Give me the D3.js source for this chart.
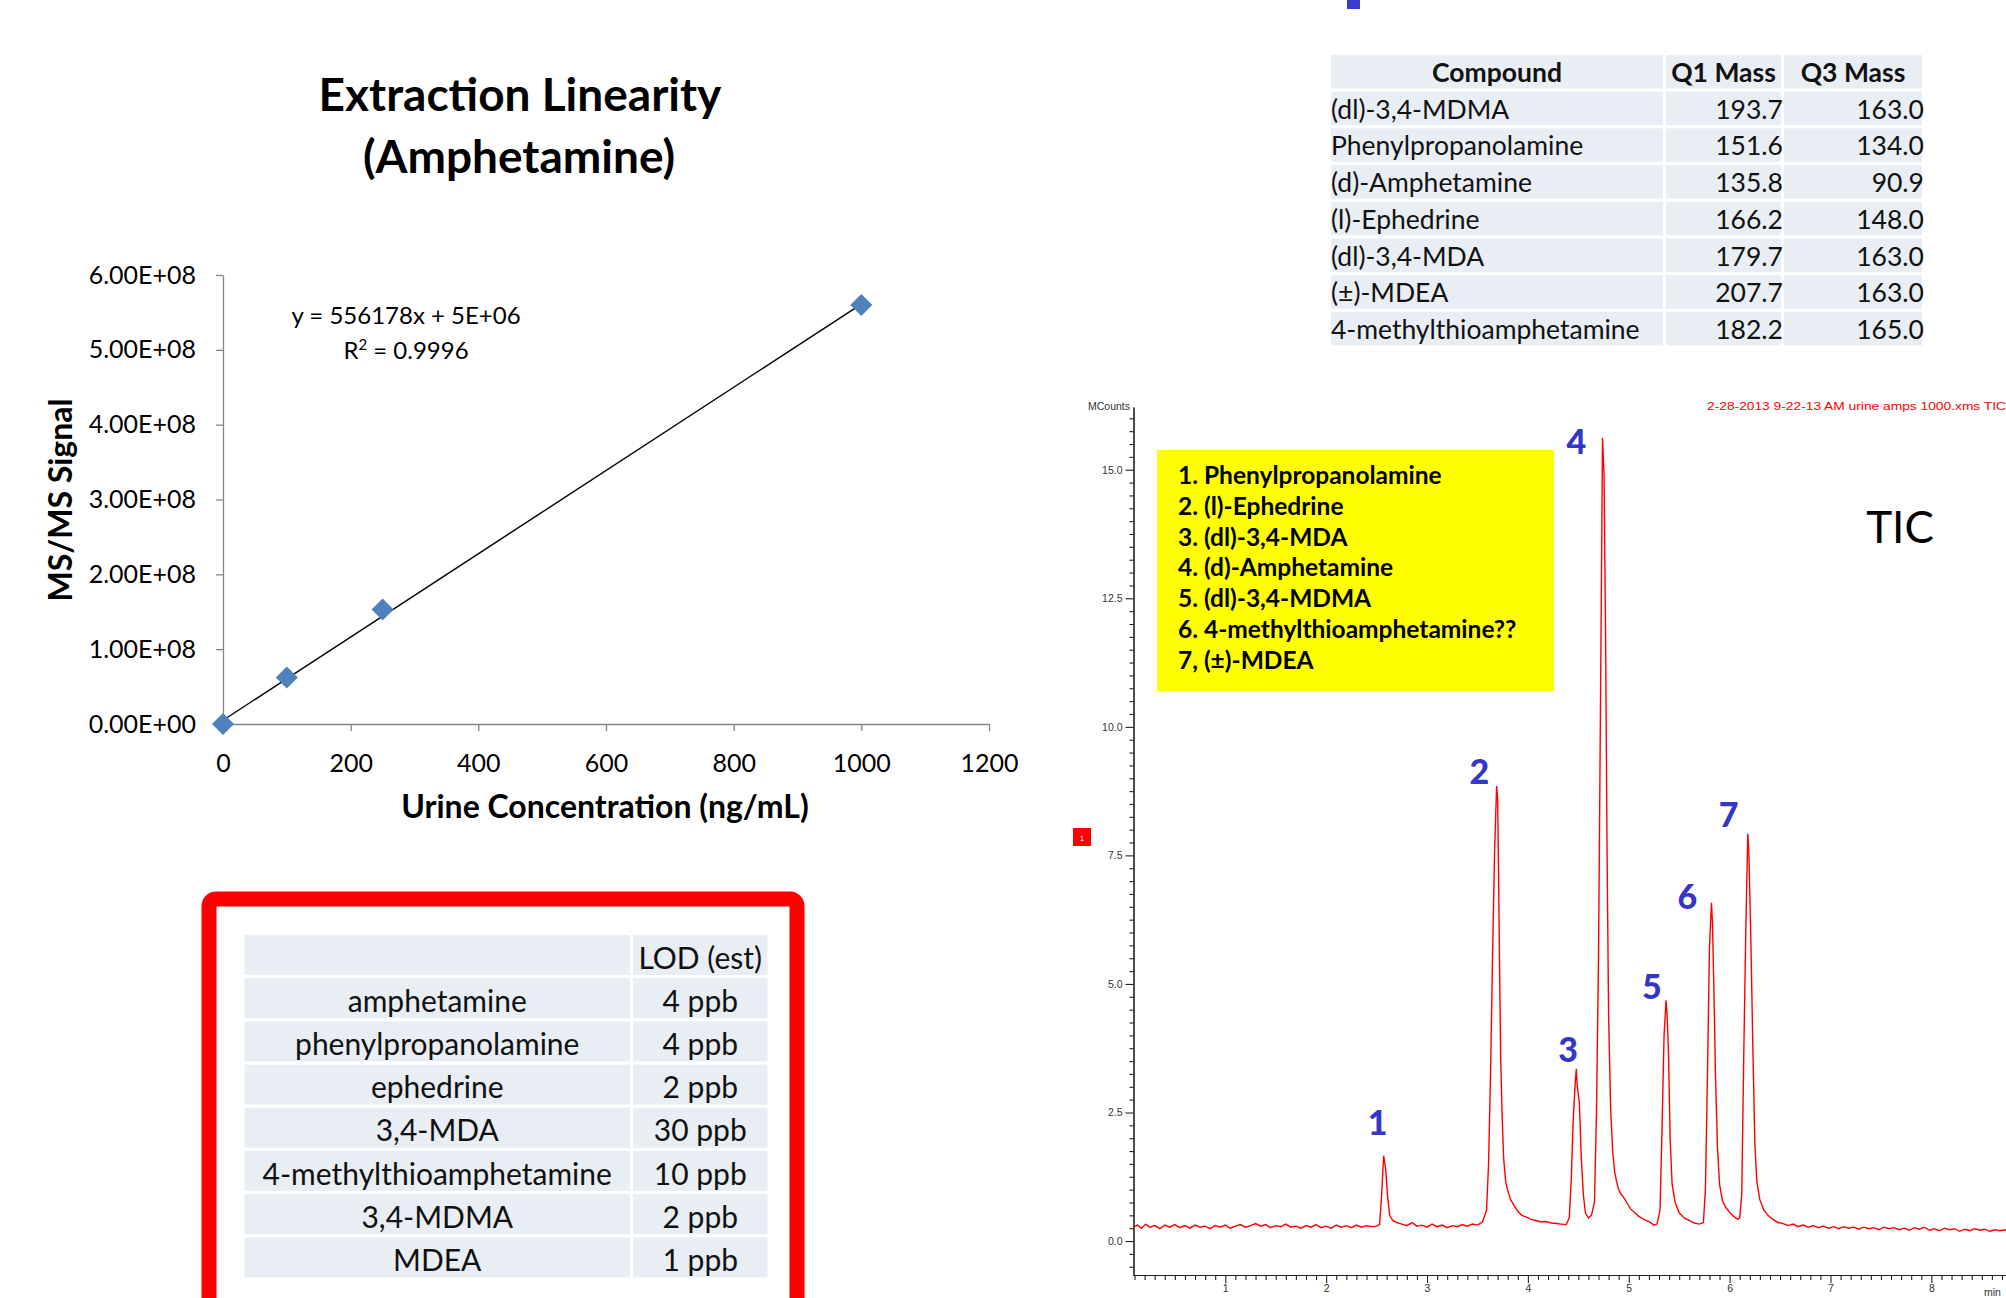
<!DOCTYPE html>
<html>
<head>
<meta charset="utf-8">
<script src="https://cdn.jsdelivr.net/npm/d3@7"></script>
<style>
  body { margin: 0; background: #fff; }
  svg { display: block; }
</style>
</head>
<body>
<svg width="2006" height="1298"></svg>
<script>
// linearity chart
const concentration = [0, 100, 250, 1000];
const msSignal = [0, 6.2e7, 1.53e8, 5.6e8];
const fitSlope = 556178;
const fitIntercept = 5e6;
const linXTicks = [0, 200, 400, 600, 800, 1000, 1200];
const linYTicks = [0, 1e8, 2e8, 3e8, 4e8, 5e8, 6e8];

// LOD table
const lodAnalyte = ["amphetamine", "phenylpropanolamine", "ephedrine", "3,4-MDA",
  "4-methylthioamphetamine", "3,4-MDMA", "MDEA"];
const lodValue = ["4 ppb", "4 ppb", "2 ppb", "30 ppb", "10 ppb", "2 ppb", "1 ppb"];

// MRM table
const compound = ["(dl)-3,4-MDMA", "Phenylpropanolamine", "(d)-Amphetamine", "(l)-Ephedrine",
  "(dl)-3,4-MDA", "(\u00b1)-MDEA", "4-methylthioamphetamine"];
const q1Mass = [193.7, 151.6, 135.8, 166.2, 179.7, 207.7, 182.2];
const q3Mass = [163.0, 134.0, 90.9, 148.0, 163.0, 163.0, 165.0];

// chromatogram
const peakNames = ["1. Phenylpropanolamine", "2. (l)-Ephedrine", "3. (dl)-3,4-MDA",
  "4. (d)-Amphetamine", "5. (dl)-3,4-MDMA", "6. 4-methylthioamphetamine??", "7, (\u00b1)-MDEA"];
const peakIds = ["1", "2", "3", "4", "5", "6", "7"];
const peakLabelTime = [2.51, 3.52, 4.40, 4.48, 5.23, 5.58, 5.99];
const peakLabelLevel = [2.06, 8.89, 3.48, 15.30, 4.71, 6.46, 8.05];
const ticYTicks = [0, 2.5, 5, 7.5, 10, 12.5, 15];
const ticXTicks = [1, 2, 3, 4, 5, 6, 7, 8];
// [min, MCounts]
const ticTrace = [
  [0.09,0.27],[0.13,0.31],[0.17,0.25],[0.21,0.33],[0.25,0.27],[0.30,0.30],[0.35,0.24],[0.40,0.31],
  [0.45,0.27],[0.50,0.32],[0.55,0.26],[0.60,0.30],[0.65,0.25],[0.70,0.31],[0.75,0.27],[0.80,0.29],
  [0.85,0.24],[0.90,0.30],[0.95,0.27],[1.00,0.31],[1.05,0.25],[1.10,0.29],[1.15,0.32],[1.20,0.27],
  [1.25,0.30],[1.30,0.34],[1.35,0.29],[1.40,0.32],[1.45,0.26],[1.50,0.30],[1.55,0.28],[1.60,0.33],
  [1.65,0.27],[1.70,0.29],[1.75,0.25],[1.80,0.30],[1.85,0.27],[1.90,0.32],[1.95,0.26],[2.00,0.29],
  [2.05,0.25],[2.10,0.31],[2.15,0.27],[2.20,0.30],[2.25,0.26],[2.30,0.31],[2.35,0.27],[2.40,0.30],
  [2.45,0.28],[2.50,0.29],
  [2.53,0.32],[2.55,0.90],[2.57,1.66],[2.59,1.40],[2.61,0.85],[2.63,0.50],[2.66,0.40],[2.70,0.36],
  [2.75,0.33],[2.80,0.30],[2.85,0.36],[2.90,0.29],[2.95,0.31],[3.00,0.27],[3.05,0.33],[3.10,0.28],
  [3.15,0.31],[3.20,0.26],[3.25,0.30],[3.30,0.28],[3.35,0.32],[3.40,0.29],[3.45,0.33],[3.50,0.31],
  [3.55,0.37],
  [3.59,0.60],[3.61,1.50],[3.63,3.30],[3.65,5.60],[3.67,7.60],[3.69,8.85],[3.70,8.60],[3.71,7.00],
  [3.72,5.20],[3.73,3.60],[3.745,2.40],[3.76,1.60],[3.78,1.15],[3.80,0.98],[3.83,0.80],[3.86,0.70],
  [3.90,0.58],[3.94,0.50],[3.98,0.47],[4.03,0.42],[4.08,0.40],[4.13,0.37],[4.18,0.38],[4.23,0.35],
  [4.28,0.34],[4.33,0.33],[4.38,0.32],
  [4.41,0.45],[4.43,1.20],[4.45,2.40],[4.47,3.10],[4.48,3.35],[4.49,3.00],[4.51,2.70],[4.53,1.60],
  [4.55,0.90],[4.57,0.55],[4.60,0.45],[4.63,0.50],[4.66,0.75],
  [4.68,2.50],[4.70,5.50],[4.72,10.5],[4.74,15.62],[4.755,14.9],[4.77,11.8],[4.785,7.60],[4.80,4.40],
  [4.82,2.60],[4.84,1.75],[4.86,1.35],[4.88,1.15],[4.90,1.00],[4.92,0.92],[4.95,0.85],[4.98,0.75],
  [5.02,0.62],[5.06,0.55],[5.10,0.48],[5.15,0.42],[5.20,0.38],[5.25,0.31],[5.28,0.33],
  [5.31,0.60],[5.33,2.20],[5.35,4.00],[5.37,4.68],[5.38,4.40],[5.395,3.60],[5.41,2.00],[5.43,1.10],
  [5.46,0.75],[5.50,0.55],[5.55,0.45],[5.60,0.40],[5.65,0.35],[5.70,0.33],[5.74,0.36],
  [5.76,1.00],[5.78,3.20],[5.80,5.70],[5.82,6.58],[5.83,6.20],[5.845,4.80],[5.86,3.20],[5.88,1.80],
  [5.90,1.10],[5.93,0.78],[5.96,0.66],[6.00,0.56],[6.04,0.48],[6.08,0.42],[6.10,0.45],
  [6.12,0.90],[6.14,3.60],[6.16,6.00],[6.18,7.92],[6.19,7.60],[6.21,5.90],[6.23,3.80],[6.25,1.90],
  [6.27,1.15],[6.30,0.80],[6.34,0.60],[6.38,0.50],[6.43,0.42],[6.48,0.36],[6.53,0.34],[6.58,0.30],
  [6.63,0.33],[6.68,0.28],[6.73,0.31],[6.78,0.27],[6.83,0.30],[6.88,0.26],[6.93,0.29],[6.98,0.25],
  [7.03,0.28],[7.08,0.24],[7.13,0.28],[7.18,0.25],[7.23,0.27],[7.28,0.23],[7.33,0.27],[7.38,0.24],
  [7.43,0.26],[7.48,0.22],[7.53,0.27],[7.58,0.24],[7.63,0.26],[7.68,0.22],[7.73,0.25],[7.78,0.21],
  [7.83,0.26],[7.88,0.23],[7.93,0.27],[7.98,0.21],[8.03,0.24],[8.08,0.20],[8.13,0.25],[8.18,0.22],
  [8.23,0.24],[8.28,0.19],[8.33,0.23],[8.38,0.20],[8.43,0.24],[8.48,0.21],[8.53,0.23],[8.58,0.19],
  [8.63,0.22],[8.68,0.20],[8.74,0.22]
];

const svg = d3.select("svg");
const calibri = "Lato, 'Open Sans', sans-serif";
const arial = "'Liberation Sans', Arial, sans-serif";

function fmtE(v) {
  // excel style 6.00E+08
  let s = v.toExponential(2).toUpperCase();
  return s.replace(/E([+-])(\d)$/, "E$10$2");
}

// ---------------- linearity scatter ----------------
function drawLinearity() {
  const x = d3.scaleLinear().domain([0, 1200]).range([223, 989]);
  const y = d3.scaleLinear().domain([0, 6e8]).range([724, 275]);
  const g = svg.append("g");

  g.append("text").attr("x", 520).attr("y", 111).attr("text-anchor", "middle")
    .style("font", "bold 46px " + calibri).text("Extraction Linearity");
  g.append("text").attr("x", 519).attr("y", 173).attr("text-anchor", "middle")
    .style("font", "bold 46px " + calibri).text("(Amphetamine)");

  const ya = g.append("g").attr("transform", "translate(223,0)")
    .call(d3.axisLeft(y).tickValues(linYTicks).tickSize(7).tickSizeOuter(0).tickPadding(20).tickFormat(fmtE));
  const xa = g.append("g").attr("transform", "translate(0,724)")
    .call(d3.axisBottom(x).tickValues(linXTicks).tickSize(7).tickSizeOuter(0).tickPadding(23)
      .tickFormat(d3.format("d")));
  [ya, xa].forEach(a => {
    a.selectAll("path, line").attr("stroke", "#868686").attr("stroke-width", 1.3);
    a.selectAll("text").style("font", "25px " + calibri).attr("fill", "#000");
  });

  g.append("text").attr("transform", "translate(72,500) rotate(-90)").attr("text-anchor", "middle")
    .style("font", "bold 32px " + calibri).text("MS/MS Signal");
  g.append("text").attr("x", 605).attr("y", 818).attr("text-anchor", "middle")
    .style("font", "bold 32px " + calibri).text("Urine Concentration (ng/mL)");

  // trend line
  g.append("line")
    .attr("x1", x(0)).attr("y1", y(fitIntercept))
    .attr("x2", x(1000)).attr("y2", y(fitSlope * 1000 + fitIntercept))
    .attr("stroke", "#000").attr("stroke-width", 1.4);

  g.selectAll("path.pt").data(concentration).enter().append("path")
    .attr("class", "pt")
    .attr("transform", (d, i) => `translate(${x(d)},${y(msSignal[i])})`)
    .attr("d", "M0,-11L11,0L0,11L-11,0Z")
    .attr("fill", "#4F81BD");

  g.append("text").attr("x", 406).attr("y", 324).attr("text-anchor", "middle")
    .style("font", "24px " + calibri).text("y = " + fitSlope + "x + " + fmtE(fitIntercept).replace(".00", ""));
  const r2 = g.append("text").attr("x", 406).attr("y", 359).attr("text-anchor", "middle")
    .style("font", "24px " + calibri);
  r2.append("tspan").text("R");
  r2.append("tspan").attr("dy", -9).style("font-size", "15px").text("2");
  r2.append("tspan").attr("dy", 9).text(" = 0.9996");
}

// ---------------- LOD table in red frame ----------------
function drawLod() {
  const g = svg.append("g");
  g.append("rect").attr("x", 209).attr("y", 899).attr("width", 588).attr("height", 520)
    .attr("rx", 7).attr("fill", "none").attr("stroke", "#FF0000").attr("stroke-width", 15);

  const cols = [[244.5, 630], [633, 767.5]];
  const rowY = d3.scaleLinear().domain([0, 1]).range([935, 978.2]);
  const rows = [["", "LOD (est)"]].concat(lodAnalyte.map((a, i) => [a, lodValue[i]]));

  rows.forEach((r, i) => {
    cols.forEach((c, j) => {
      g.append("rect").attr("x", c[0]).attr("y", rowY(i)).attr("width", c[1] - c[0])
        .attr("height", 40).attr("fill", "#E9EDF4");
      g.append("text").attr("x", (c[0] + c[1]) / 2).attr("y", rowY(i) + 33.5)
        .attr("text-anchor", "middle").attr("fill", "#111")
        .style("font", "30px " + calibri).text(r[j]);
    });
  });
}

// ---------------- MRM table ----------------
function drawMrm() {
  const g = svg.append("g");
  g.append("rect").attr("x", 1347).attr("y", 0).attr("width", 13).attr("height", 9).attr("fill", "#3B3BCB");

  const cols = [[1331, 1663], [1666, 1781], [1784, 1922]];
  const rowY = d3.scaleLinear().domain([0, 1]).range([55, 91.7]);
  const header = ["Compound", "Q1 Mass", "Q3 Mass"];
  const rows = [header].concat(compound.map((c, i) => [c, q1Mass[i].toFixed(1), q3Mass[i].toFixed(1)]));

  rows.forEach((r, i) => {
    cols.forEach((c, j) => {
      g.append("rect").attr("x", c[0]).attr("y", rowY(i)).attr("width", c[1] - c[0])
        .attr("height", 33.5).attr("fill", "#E9EDF4");
      const t = g.append("text").attr("y", rowY(i) + 27).attr("fill", "#111")
        .style("font", (i === 0 ? "bold " : "") + "26.5px " + calibri).text(r[j]);
      if (i === 0) t.attr("x", (c[0] + c[1]) / 2).attr("text-anchor", "middle");
      else if (j === 0) t.attr("x", c[0]).attr("text-anchor", "start");
      else t.attr("x", c[1] + 2).attr("text-anchor", "end");
    });
  });
}

// ---------------- TIC chromatogram ----------------
function drawTic() {
  const tx = d3.scaleLinear().domain([0.09, 8.74]).range([1133.5, 2006]);
  const ty = d3.scaleLinear().domain([-0.67, 16.22]).range([1275.5, 407]);
  const g = svg.append("g");

  const minorY = d3.range(-0.5, 16.1, 0.25).filter(v => v % 2.5 !== 0);
  g.append("g").attr("transform", "translate(1133.5,0)")
    .call(d3.axisLeft(ty).tickValues(minorY).tickSize(4).tickSizeOuter(0).tickFormat(""));
  const ya = g.append("g").attr("transform", "translate(1133.5,0)")
    .call(d3.axisLeft(ty).tickValues(ticYTicks).tickSize(8).tickSizeOuter(0).tickPadding(3)
      .tickFormat(d3.format(".1f")));

  const minorX = d3.range(0.1, 8.75, 0.1).filter(v => Math.abs(v - Math.round(v)) > 0.01);
  g.append("g").attr("transform", "translate(0,1275)")
    .call(d3.axisBottom(tx).tickValues(minorX).tickSize(5).tickSizeOuter(0).tickFormat(""));
  const xa = g.append("g").attr("transform", "translate(0,1275)")
    .call(d3.axisBottom(tx).tickValues(ticXTicks).tickSize(8).tickSizeOuter(0).tickPadding(2));

  g.selectAll("path, line").attr("stroke", "#222").attr("stroke-width", 1.1);
  [ya, xa].forEach(a => a.selectAll("text").style("font", "10.5px " + arial).attr("fill", "#333"));

  g.append("text").attr("x", 1130).attr("y", 410).attr("text-anchor", "end")
    .style("font", "10.5px " + arial).attr("fill", "#333").text("MCounts");
  g.append("text").attr("x", 1984).attr("y", 1296)
    .style("font", "10.5px " + arial).attr("fill", "#333").text("min");
  g.append("text").attr("x", 1707).attr("y", 410).attr("textLength", 299)
    .attr("lengthAdjust", "spacingAndGlyphs")
    .style("font", "11px " + arial).attr("fill", "#FF0000")
    .text("2-28-2013 9-22-13 AM urine amps 1000.xms TIC");

  g.append("rect").attr("x", 1073).attr("y", 828).attr("width", 18).attr("height", 18).attr("fill", "#FF0000");
  g.append("text").attr("x", 1082).attr("y", 841).attr("text-anchor", "middle")
    .style("font", "8px " + arial).attr("fill", "#fff").text("1");

  g.append("path").datum(ticTrace)
    .attr("d", d3.line().x(d => tx(d[0])).y(d => ty(d[1])))
    .attr("fill", "none").attr("stroke", "#FF0000").attr("stroke-width", 1.4);

  // legend box
  g.append("rect").attr("x", 1157).attr("y", 450).attr("width", 397).attr("height", 241).attr("fill", "#FFFF00");
  g.selectAll("text.leg").data(peakNames).enter().append("text")
    .attr("class", "leg").attr("x", 1178).attr("y", (d, i) => 484 + i * 30.8)
    .style("font", "bold 24.5px " + calibri).attr("fill", "#000").text(d => d);

  g.selectAll("text.pk").data(peakIds).enter().append("text")
    .attr("class", "pk").attr("text-anchor", "middle")
    .attr("x", (d, i) => tx(peakLabelTime[i])).attr("y", (d, i) => ty(peakLabelLevel[i]))
    .style("font", "900 34px " + calibri).attr("fill", "#3535C8").text(d => d);

  g.append("text").attr("x", 1900).attr("y", 543).attr("text-anchor", "middle")
    .style("font", "44px " + calibri).attr("fill", "#000").text("TIC");
}

drawLinearity();
drawLod();
drawMrm();
drawTic();
</script>
</body>
</html>
